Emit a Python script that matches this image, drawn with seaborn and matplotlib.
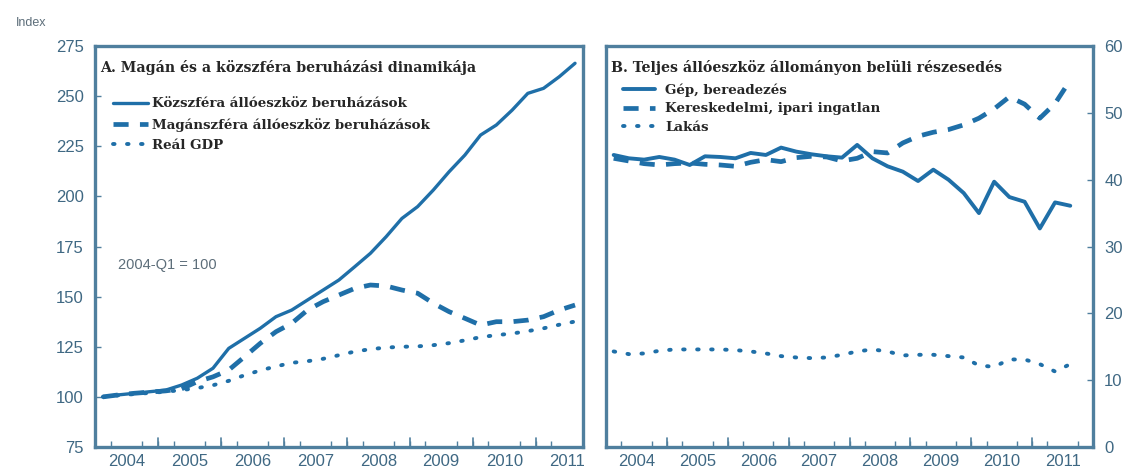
import pandas as pd
import seaborn as sns
import matplotlib.pyplot as plt
from matplotlib.ticker import MultipleLocator

# quarterly data, 2004Q1 .. 2011Q3
quarters = [f'{y}Q{q}' for y in range(2004, 2012) for q in range(1, 5)][:31]

kozszfera = [100, 101, 101.8, 102.6, 103.4, 105.9, 109.3, 114.3, 124.2, 129.2,
             134.2, 140, 143.3, 148.3, 153.3, 158.3, 164.9, 171.6, 179.9, 189,
             194.9, 203.2, 212.3, 220.6, 230.6, 235.6, 243, 251.4, 253.9, 259.7, 266.4]
maganszfera = [100, 101, 101.8, 102.4, 103, 104, 107.6, 110, 113.4, 120,
               126.7, 132.5, 136.7, 143.3, 147.5, 150.8, 154.1, 155.8, 155.3, 153.3,
               151.7, 146.7, 142.5, 139.2, 135.8, 137.5, 137.5, 138.3, 140, 143.3, 145.8]
gdp = [100, 100.8, 101.4, 102, 102.6, 103.4, 104.4, 105.8, 108, 110.8,
       113.2, 115.2, 117, 117.8, 119, 120.8, 122.6, 123.8, 124.6, 125,
       125.2, 125.8, 126.8, 128.2, 129.8, 130.8, 131.6, 132.8, 134.2, 136, 137.6]

gep = [43.7, 43.2, 43.0, 43.4, 43.0, 42.2, 43.5, 43.4, 43.2, 44.0,
       43.7, 44.8, 44.2, 43.8, 43.5, 43.3, 45.2, 43.2, 42.0, 41.2,
       39.8, 41.5, 40.0, 38.0, 35.0, 39.7, 37.4, 36.7, 32.7, 36.6, 36.1]
kereskedelmi = [43.2, 42.8, 42.4, 42.2, 42.4, 42.5, 42.3, 42.2, 42.0, 42.6,
                43.0, 42.7, 43.3, 43.5, 43.4, 42.8, 43.2, 44.2, 44.0, 45.5,
                46.5, 47.1, 47.5, 48.2, 49.2, 50.6, 52.4, 51.3, 49.2, 51.4, 54.9]
lakas = [14.3, 13.9, 14.0, 14.4, 14.6, 14.6, 14.6, 14.6, 14.5, 14.3,
         14.0, 13.6, 13.4, 13.3, 13.4, 13.8, 14.3, 14.6, 14.3, 13.7,
         13.8, 13.8, 13.6, 13.4, 12.2, 12.0, 13.1, 13.1, 12.4, 11.3, 12.4]

years = list(range(2004, 2012))

# decimal time at middle of each quarter
t = [int(q[:4]) + (int(q[-1]) - 0.5) / 4 for q in quarters]
dfa = pd.DataFrame({'t': t, 'koz': kozszfera, 'mag': maganszfera, 'gdp': gdp})
dfb = pd.DataFrame({'t': t, 'gep': gep, 'ker': kereskedelmi, 'lak': lakas})

sns.set_style('white')
plt.rcParams['font.family'] = ['Liberation Sans', 'DejaVu Sans']

blue = '#1f6fa8'
frame = '#4f7f9e'
tickc = '#3f6883'
title_font = {'family': 'DejaVu Serif', 'weight': 'bold', 'size': 10.2}
leg_font = {'family': 'DejaVu Serif', 'weight': 'bold', 'size': 9.6}
dashed = (0, (3.2, 2.4))
dotted = (0, (0.4, 3.2))

fig = plt.figure(figsize=(11.29, 4.76), dpi=100)
ax1 = fig.add_axes([0.0841, 0.0609, 0.4322, 0.8424])
ax2 = fig.add_axes([0.5368, 0.0609, 0.4314, 0.8424])

# panel A
sns.lineplot(data=dfa, x='t', y='koz', ax=ax1, color=blue, lw=2.4,
             label='Közszféra állóeszköz beruházások')
sns.lineplot(data=dfa, x='t', y='mag', ax=ax1, color=blue, lw=3.4,
             linestyle=dashed, label='Magánszféra állóeszköz beruházások')
sns.lineplot(data=dfa, x='t', y='gdp', ax=ax1, color=blue, lw=2.8,
             linestyle=dotted, dash_capstyle='round', label='Reál GDP')
ax1.set_xlim(2004, 2011.75)
ax1.set_ylim(75, 275)
ax1.yaxis.set_major_locator(MultipleLocator(25))
ax1.text(0.01, 0.965, 'A. Magán és a közszféra beruházási dinamikája',
         transform=ax1.transAxes, ha='left', va='top', fontdict=title_font)
ax1.text(0.047, 0.454, '2004-Q1 = 100', transform=ax1.transAxes,
         ha='left', va='center', fontsize=10.5, color='#5d6e7a')
ax1.legend(loc='upper left', bbox_to_anchor=(0.018, 0.895), frameon=False,
           prop=leg_font, handlelength=2.6, labelspacing=0.55, borderpad=0.2,
           handletextpad=0.3)

# panel B
sns.lineplot(data=dfb, x='t', y='gep', ax=ax2, color=blue, lw=2.8,
             label='Gép, bereadezés')
sns.lineplot(data=dfb, x='t', y='ker', ax=ax2, color=blue, lw=3.4,
             linestyle=dashed, label='Kereskedelmi, ipari ingatlan')
sns.lineplot(data=dfb, x='t', y='lak', ax=ax2, color=blue, lw=2.8,
             linestyle=dotted, dash_capstyle='round', label='Lakás')
ax2.set_xlim(2004, 2012)
ax2.set_ylim(0, 60)
ax2.yaxis.set_major_locator(MultipleLocator(10))
ax2.yaxis.tick_right()
ax2.text(0.01, 0.965, 'B. Teljes állóeszköz állományon belüli részesedés',
         transform=ax2.transAxes, ha='left', va='top', fontdict=title_font)
ax2.legend(loc='upper left', bbox_to_anchor=(0.015, 0.93), frameon=False,
           prop=leg_font, handlelength=2.4, labelspacing=0.4, borderpad=0.2,
           handletextpad=0.8)

for ax in (ax1, ax2):
    ax.set_xlabel('')
    ax.set_ylabel('')
    for s in ax.spines.values():
        s.set_color(frame)
        s.set_linewidth(2.4)
    ax.xaxis.set_minor_locator(MultipleLocator(0.25))
    ax.set_xticks([y + 0.5 for y in years])
    ax.set_xticklabels([str(y) for y in years])
    ax.tick_params(axis='x', which='major', length=0, pad=5,
                   labelsize=12, labelcolor=tickc)
    ax.tick_params(axis='x', which='minor', bottom=True, direction='in',
                   length=4, width=1, color=frame)
    ax.tick_params(axis='y', which='major', left=(ax is ax1), right=(ax is ax2),
                   direction='in', length=4, width=1, color=frame,
                   labelsize=12, labelcolor=tickc, pad=8)
    for y in years[1:]:
        ax.axvline(y, ymin=0, ymax=0.022, color=frame, lw=1.2)

fig.text(0.014, 0.952, 'Index', fontsize=9, color='#5d6e7a', va='center')
fig.savefig('out.png', dpi=100)
